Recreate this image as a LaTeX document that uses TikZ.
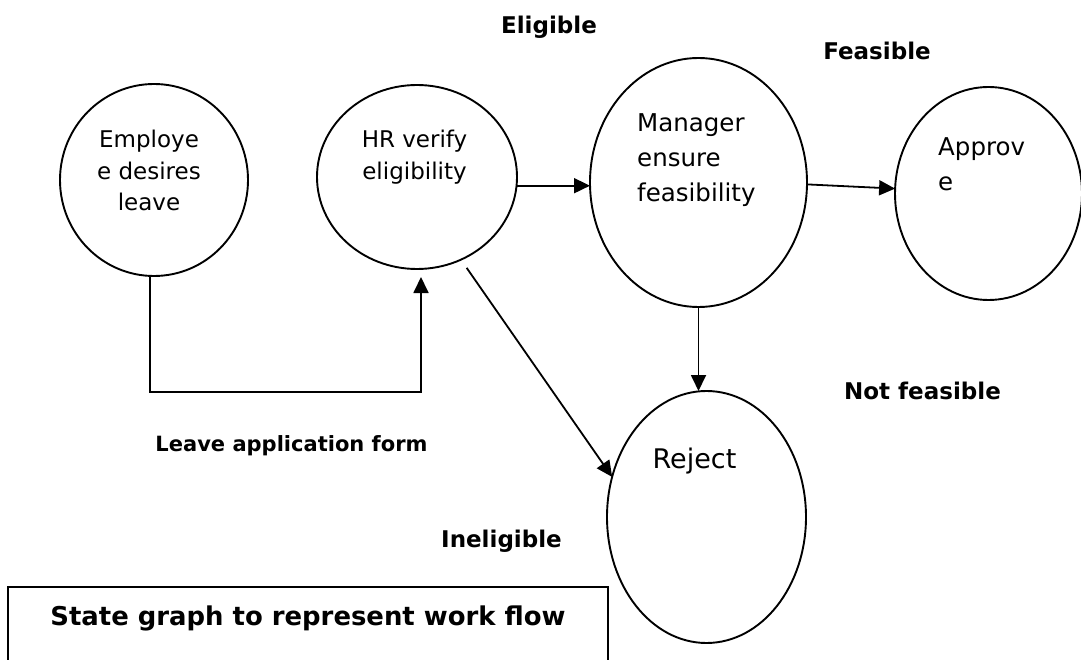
\documentclass[tikz,border=0pt]{standalone}
\usepackage{fontspec}
\setmainfont{DejaVu Sans}
\usetikzlibrary{shapes.geometric,arrows.meta,calc}
\begin{document}
\begin{tikzpicture}[x=1pt,y=-1pt,
  state/.style={ellipse, draw, line width=1.9pt, inner sep=0pt, outer sep=0pt},
  conn/.style={line width=1.8pt, -{Triangle[length=16pt,width=15pt]}},
  edgelbl/.style={font=\bfseries\fontsize{23}{28}\selectfont, anchor=base, inner sep=0pt},
  smalltxt/.style={font=\fontsize{23}{31.5}\selectfont, inner sep=0pt},
  bigtxt/.style={font=\fontsize{24.5}{35}\selectfont, inner sep=0pt}]
\useasboundingbox (0,0) rectangle (1081,660);
\fill[white] (0,0) rectangle (1081,660);
\clip (0,0) rectangle (1081,660);

% states
\node (emp)  [state, minimum width=188pt, minimum height=192pt] at (154,180) {};
\node (hr)   [state, minimum width=200pt, minimum height=184pt] at (417,177) {};
\node (mgr)  [state, minimum width=217pt, minimum height=249pt] at (698.5,182.5) {};
\node (appr) [state, minimum width=187pt, minimum height=213pt] at (988.5,193.5) {};
\node (rej)  [state, minimum width=199pt, minimum height=252pt] at (706.5,517) {};

% state texts
\node (empT)  [smalltxt, anchor=north, align=center] at (149,130) {Employe\\e desires\\leave};
\node (hrT)   [smalltxt, anchor=north, align=center] at (414.5,130) {HR verify\\eligibility};
\node (mgrT)  [bigtxt, anchor=north west, align=left] at (637,113.8) {Manager\\ensure\\feasibility};
\node (apprT) [bigtxt, anchor=north west, align=left] at (938,137) {Approv\\e};
\node (rejT)  [font=\fontsize{27}{32}\selectfont, inner sep=0pt, anchor=base] at (694.5,468.3) {Reject};

% transition labels
\node (lEl)  [edgelbl] at (549,33.3) {Eligible};
\node (lFe)  [edgelbl] at (877,59.3) {Feasible};
\node (lNf)  [edgelbl] at (922.5,399.3) {Not feasible};
\node (lIn)  [edgelbl] at (501.5,547.3) {Ineligible};
\node (lLa)  [edgelbl, font=\bfseries\fontsize{21}{26}\selectfont] at (291.5,451.7) {Leave application form};

% caption box, open at the lower page edge
\node (cap) [draw, line width=1.8pt, anchor=north, outer sep=0pt,
  minimum width=600pt, inner ysep=19pt, text height=19pt, text depth=80pt,
  font=\bfseries\fontsize{25.9}{30}\selectfont] at (308,587) {State graph to represent work flow};

% transitions
\coordinate (bend) at (421,392);
\draw[conn, shorten >=8pt] ($(emp.south)+(-4,0)$) |- (bend) -- (bend |- hr.south);
\draw[conn] (hr.-5) -- (hr.-5 -| mgr.west);
\draw[conn] (mgr.-1) -- (appr.177);
\draw[conn] (mgr.south) -- (mgr.south |- rej.north);
\draw[conn, shorten <=10pt] (hr.-62) -- (rej.157);
\end{tikzpicture}
\end{document}
